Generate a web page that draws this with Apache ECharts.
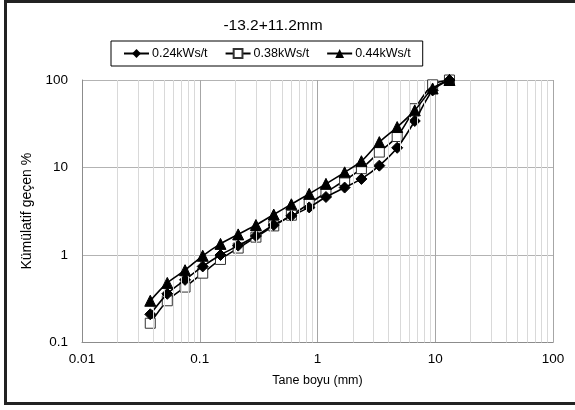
<!DOCTYPE html>
<html>
<head>
<meta charset="utf-8">
<script src="https://cdn.jsdelivr.net/npm/echarts@6/dist/echarts.min.js"></script>
<style>
  html, body { margin: 0; padding: 0; background: #fff; }
  #chart { width: 575px; height: 410px; }
</style>
</head>
<body>
<div id="chart"></div>
<script>
// sieve sizes (mm)
var sizes = [0.038, 0.053, 0.075, 0.106, 0.15, 0.212, 0.3, 0.425, 0.6, 0.85, 1.18, 1.7, 2.36, 3.35, 4.75, 6.7, 9.5, 13.2];
// cumulative passing % per energy level
var pass024 = [0.21, 0.36, 0.52, 0.74, 1.0, 1.28, 1.65, 2.2, 2.8, 3.5, 4.6, 5.9, 7.4, 10.5, 16.8, 34, 76, 100];
var pass038 = [0.166, 0.30, 0.43, 0.62, 0.89, 1.2, 1.6, 2.15, 2.85, 3.85, 5.2, 7.1, 9.7, 15, 22.6, 47, 88, 100];
var pass044 = [0.30, 0.48, 0.67, 0.98, 1.34, 1.72, 2.2, 2.9, 3.8, 5.0, 6.5, 8.8, 11.8, 19.5, 29, 45, 80, 100];
var seriesNames = ['0.24kWs/t', '0.38kWs/t', '0.44kWs/t'];
var decades = [0.01, 0.1, 1, 10];
var minorSteps = [2, 3, 4, 5, 6, 7, 8, 9];

var font = 'Arial, "Liberation Sans", sans-serif';

function pairs(ys) {
  return sizes.map(function(x, i) { return [x, ys[i]]; });
}

var minorLines = [];
decades.forEach(function(d) {
  minorSteps.forEach(function(m) {
    minorLines.push({ xAxis: +(d * m).toPrecision(3) });
  });
});

var chart = echarts.init(document.getElementById('chart'), null, { renderer: 'canvas' });

chart.setOption({
  backgroundColor: '#fff',
  animation: false,
  textStyle: { fontFamily: font, color: '#000' },
  graphic: [{
    type: 'rect',
    shape: { x: 5.5, y: 1.5, width: 620, height: 402 },
    style: { fill: 'none', stroke: '#222', lineWidth: 3 },
    silent: true
  }],
  title: {
    text: '-13.2+11.2mm',
    left: 268,
    textAlign: 'center',
    top: 13,
    textStyle: { fontFamily: font, fontSize: 15.5, fontWeight: 'normal', color: '#000' }
  },
  legend: {
    left: 111,
    top: 41,
    padding: [6, 12],
    borderColor: '#000',
    borderWidth: 1,
    itemWidth: 25,
    itemHeight: 11,
    itemGap: 17,
    data: seriesNames,
    textStyle: { fontFamily: font, fontSize: 12.5, color: '#000', padding: [0, 0, 0, -2] }
  },
  grid: { left: 82, top: 80, width: 471, height: 262.5 },
  xAxis: {
    type: 'log',
    logBase: 10,
    min: 0.01,
    max: 100,
    name: 'Tane boyu (mm)',
    nameLocation: 'middle',
    nameGap: 32,
    nameTextStyle: { fontFamily: font, fontSize: 12.5, color: '#000' },
    axisLine: { lineStyle: { color: '#8c8c8c', width: 1 } },
    axisTick: { show: false },
    axisLabel: {
      fontFamily: font, fontSize: 13.5, color: '#000', margin: 10,
      formatter: function(v) { return String(+v.toPrecision(3)); }
    },
    splitLine: { show: true, lineStyle: { color: '#a6a6a6', width: 1 } }
  },
  yAxis: {
    type: 'log',
    logBase: 10,
    min: 0.1,
    max: 100,
    name: 'Kümülatif geçen %',
    nameLocation: 'middle',
    nameGap: 47,
    nameTextStyle: { fontFamily: font, fontSize: 14, color: '#000' },
    axisLine: { show: true, lineStyle: { color: '#8c8c8c', width: 1 } },
    axisTick: { show: false },
    axisLabel: {
      fontFamily: font, fontSize: 13.5, color: '#000', margin: 14,
      formatter: function(v) { return String(+v.toPrecision(3)); }
    },
    splitLine: { show: true, lineStyle: { color: '#b3b3b3', width: 1 } }
  },
  series: [{
    name: 'minor',
    type: 'line',
    data: [],
    silent: true,
    z: 1,
    markLine: {
      silent: true,
      symbol: ['none', 'none'],
      label: { show: false },
      lineStyle: { color: '#d9d9d9', type: 'solid', width: 1 },
      data: minorLines
    }
  }, {
    name: seriesNames[0],
    type: 'line',
    data: pairs(pass024),
    smooth: 0.3,
    symbol: 'diamond',
    symbolSize: 11,
    z: 4,
    lineStyle: { color: '#000', width: 1.6 },
    itemStyle: { color: '#000', borderColor: '#000' }
  }, {
    name: seriesNames[1],
    type: 'line',
    data: pairs(pass038),
    smooth: 0.3,
    symbol: 'rect',
    symbolSize: 10,
    z: 3,
    lineStyle: { color: '#000', width: 1.6 },
    itemStyle: { color: '#fff', borderColor: '#333', borderWidth: 1 }
  }, {
    name: seriesNames[2],
    type: 'line',
    data: pairs(pass044),
    smooth: 0.3,
    symbol: 'triangle',
    symbolSize: 11,
    z: 5,
    lineStyle: { color: '#000', width: 1.6 },
    itemStyle: { color: '#000', borderColor: '#000' }
  }]
});
</script>
</body>
</html>
